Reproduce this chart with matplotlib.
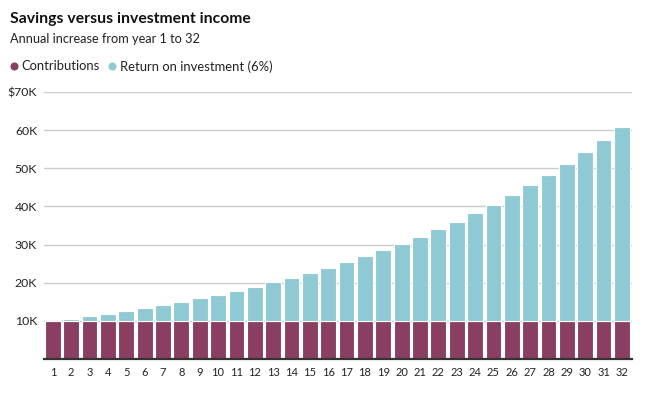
import matplotlib
matplotlib.use("Agg")
import matplotlib.pyplot as plt
from matplotlib.lines import Line2D
from matplotlib.ticker import FixedLocator

years = list(range(1, 33))
contributions = [10000] * 32
returns = [
    0, 600, 1240, 1910, 2620, 3380, 4190, 5040, 5940, 6900,
    7910, 8980, 10120, 11330, 12610, 13970, 15400, 16930, 18540, 20260,
    22070, 24000, 26030, 28200, 30490, 32920, 35490, 38220, 41120, 44180,
    47440, 50880,
]
y_ticks = [10000, 20000, 30000, 40000, 50000, 60000, 70000]
y_labels = ["10K", "20K", "30K", "40K", "50K", "60K", "$70K"]

c_contrib = "#8a3f62"
c_return = "#8fcad4"

plt.rcParams["font.family"] = ["Lato", "DejaVu Sans"]

fig = plt.figure(figsize=(6.6, 3.99), dpi=100)
ax = fig.add_axes([0.0667, 0.1003, 0.8909, 0.6691])

ax.bar(years, contributions, width=0.86, color=c_contrib,
       edgecolor="white", linewidth=0.8, zorder=3)
ax.bar(years, returns, bottom=contributions, width=0.86, color=c_return,
       edgecolor="white", linewidth=0.8, zorder=3)

ax.set_xlim(0.52, 32.55)
ax.set_ylim(0, 70000)
ax.yaxis.set_major_locator(FixedLocator(y_ticks))
ax.set_yticklabels(y_labels)
ax.set_xticks(years)
ax.set_xticklabels([str(y) for y in years])
ax.tick_params(axis="y", length=0, pad=5, labelsize=8.8, colors="#222222")
ax.tick_params(axis="x", length=0, pad=6, labelsize=8, colors="#222222")
ax.grid(axis="y", color="#cccccc", linewidth=1, zorder=0)
for s in ["top", "right", "left"]:
    ax.spines[s].set_visible(False)
ax.spines["bottom"].set_color("#333333")
ax.spines["bottom"].set_linewidth(1.6)
ax.spines["bottom"].set_zorder(4)

fig.text(0.015, 0.952, "Savings versus investment income", fontsize=11.3,
         fontweight="bold", color="#111111", va="center")
fig.text(0.015, 0.902, "Annual increase from year 1 to 32", fontsize=9.2,
         color="#222222", va="center")

# legend
for x, col in [(0.021, c_contrib), (0.170, c_return)]:
    fig.add_artist(Line2D([x], [0.834], marker="o", markersize=4.8,
                          color=col, linestyle="none",
                          transform=fig.transFigure))
fig.text(0.033, 0.834, "Contributions", fontsize=9.4, color="#222222",
         va="center")
fig.text(0.182, 0.834, "Return on investment (6%)", fontsize=9.4,
         color="#222222", va="center")

fig.savefig("out.png", dpi=100)
